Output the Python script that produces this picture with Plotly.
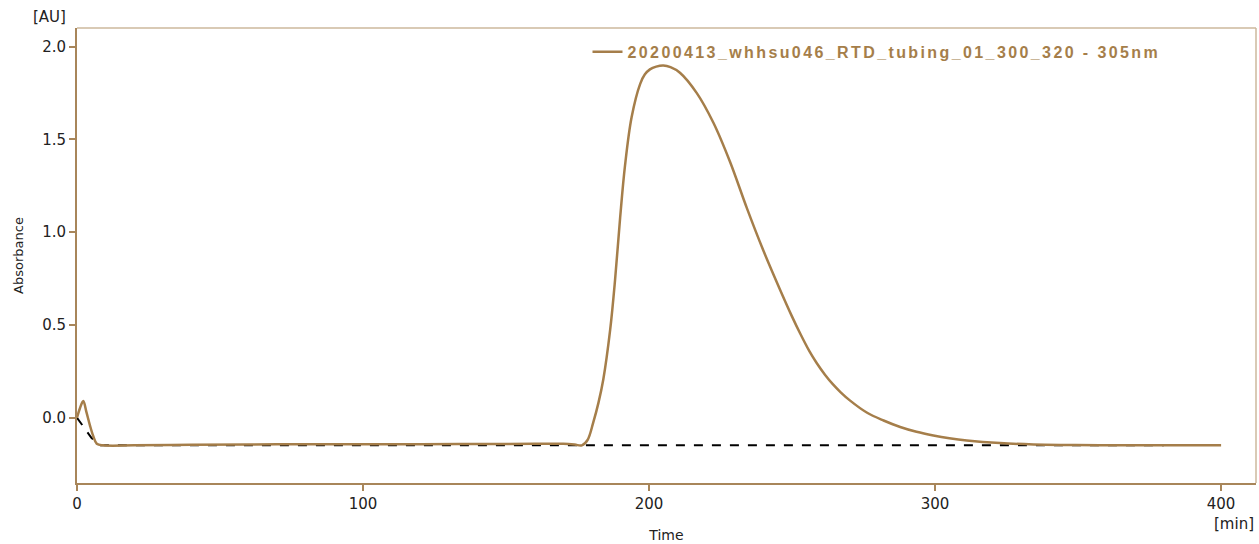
import plotly.graph_objects as go

# chromatogram trace (time in min, absorbance in AU)
time_min = [0, 1, 2.2, 3.3, 4.5, 5.7, 6.9, 9.2, 20, 40, 60, 80, 100, 120, 140,
            160, 170, 174, 176.5, 178.5, 180.5, 182.3, 184.0, 186.4, 188.1,
            189.9, 191.6, 193.9, 196.9, 198.5, 200.3, 202.5, 205.0, 207.5,
            210.8, 216.7, 222.5, 228.3, 234.2, 240.0, 245.8, 250.0, 252.8,
            256.0, 258.6, 261.5, 264.4, 267.0, 270.3, 276.1, 282.0, 287.8,
            293.5, 299.4, 305.0, 311.1, 322.7, 334.4, 346, 357.7, 370, 385, 400]
absorbance = [0.0, 0.05, 0.09, 0.03, -0.04, -0.10, -0.14, -0.149, -0.149,
              -0.146, -0.144, -0.143, -0.143, -0.143, -0.142, -0.141, -0.141,
              -0.145, -0.149, -0.12, -0.025, 0.08, 0.206, 0.473, 0.740, 1.08,
              1.36, 1.62, 1.80, 1.85, 1.878, 1.893, 1.899, 1.89,
              1.86, 1.75, 1.59, 1.38, 1.13, 0.90, 0.69, 0.545, 0.455,
              0.36, 0.295, 0.232, 0.178, 0.137, 0.092, 0.028, -0.015, -0.05,
              -0.076, -0.096, -0.111, -0.123, -0.137, -0.144, -0.147, -0.149,
              -0.149, -0.149, -0.149]

# integration baseline (dashed)
base_time = [0, 2.8, 5.1, 8, 380]
base_abs = [0.0, -0.06, -0.11, -0.148, -0.148]

trace_name = "20200413_whhsu046_RTD_tubing_01_300_320 - 305nm"

brown = "#A57E4A"
frame_dark = "#A8865A"
frame_light = "#CDB89C"
font = "DejaVu Sans"

fig = go.Figure()

fig.add_trace(go.Scatter(
    x=base_time, y=base_abs, mode="lines",
    line=dict(color="black", width=2, dash="dash"),
    showlegend=False, hoverinfo="skip"
))

fig.add_trace(go.Scatter(
    x=time_min, y=absorbance, mode="lines",
    name='<span style="letter-spacing:2.4px">' + trace_name + '</span>',
    line=dict(color=brown, width=2.5, shape="spline", smoothing=1.0)
))

# top and right frame lines are lighter than the axis lines
fig.add_shape(type="line", xref="paper", yref="paper", x0=0, x1=1, y0=1, y1=1,
              line=dict(color=frame_light, width=1.5))
fig.add_shape(type="line", xref="paper", yref="paper", x0=1, x1=1, y0=0, y1=1,
              line=dict(color=frame_light, width=1.5))

fig.add_annotation(text="[AU]", xref="paper", yref="paper", x=-0.008, y=1.0,
                   xanchor="right", yanchor="bottom", showarrow=False,
                   font=dict(family=font, size=15, color="#222"))
fig.add_annotation(text="[min]", xref="paper", yref="paper", x=1.0, y=-0.065,
                   xanchor="right", yanchor="top", showarrow=False,
                   font=dict(family=font, size=15, color="#222"))

fig.update_layout(
    width=1259, height=544,
    margin=dict(l=77, r=3, t=28, b=56),
    plot_bgcolor="white", paper_bgcolor="white",
    font=dict(family=font, size=15, color="#222"),
    legend=dict(x=0.433, y=0.985, xanchor="left", yanchor="top",
                bgcolor="rgba(0,0,0,0)", itemwidth=30,
                font=dict(family="Liberation Sans", size=16, color=brown,
                          weight="bold")),
    xaxis=dict(range=[0, 412.2], tickvals=[0, 100, 200, 300, 400],
               showgrid=False, zeroline=False, showline=True,
               linecolor=frame_dark, linewidth=2,
               ticks="outside", ticklen=6, tickcolor=frame_dark, tickwidth=1.5,
               title=dict(text="Time", standoff=18,
                          font=dict(family=font, size=14))),
    yaxis=dict(range=[-0.352, 2.101], tickvals=[0, 0.5, 1.0, 1.5, 2.0],
               tickformat=".1f",
               showgrid=False, zeroline=False, showline=True,
               linecolor=frame_dark, linewidth=2,
               ticks="outside", ticklen=6, tickcolor=frame_dark, tickwidth=1.5,
               title=dict(text="Absorbance", standoff=16,
                          font=dict(family=font, size=13))),
)

# pin the figure to the page corner so the page is exactly the figure size
page_css = (
    "document.documentElement.style.overflow='hidden';"
    "document.body.style.margin='0';"
    "document.body.style.overflow='hidden';"
    "var d=document.getElementById('{plot_id}');"
    "d.style.position='fixed';d.style.left='0';d.style.top='0';"
)
fig.write_html("out.html", config={"displayModeBar": False},
               post_script=page_css)
